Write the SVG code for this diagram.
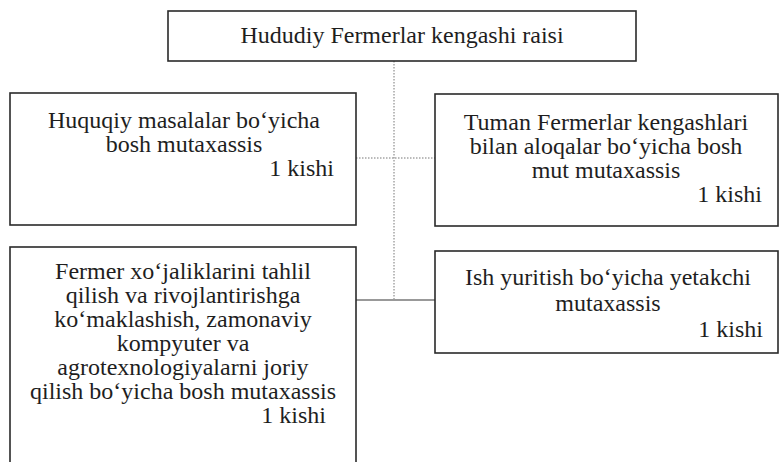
<svg xmlns="http://www.w3.org/2000/svg" width="781" height="462" viewBox="0 0 781 462">
<style>
.box{fill:#fff;stroke:#2a2a2a;stroke-width:1.6}
.t{font-family:"Liberation Serif","Times New Roman",serif;font-size:24px;fill:#1e1e1e}
.c{text-anchor:middle}
.r{text-anchor:end}
.dot{fill:none;stroke:#777;stroke-width:1;stroke-dasharray:1.5 1.5}
.sol{fill:none;stroke:#999;stroke-width:2.2}
</style>
<rect width="781" height="462" fill="#fff"/>
<g id="connectors">
<line class="dot" x1="394" y1="61" x2="394" y2="300"/>
<line class="dot" x1="356" y1="158" x2="435" y2="158"/>
<line class="sol" x1="356" y1="300" x2="435" y2="300"/>
</g>
<g id="n-top">
<rect class="box" x="168" y="11" width="468" height="50"/>
<text class="t c" x="402" y="43">Hududiy Fermerlar kengashi raisi</text>
</g>
<g id="n-huquqiy">
<rect class="box" x="10" y="93" width="346" height="132"/>
<text class="t c" x="184" y="128">Huquqiy masalalar bo‘yicha</text>
<text class="t c" x="184" y="152">bosh mutaxassis</text>
<text class="t r" x="334" y="176">1 kishi</text>
</g>
<g id="n-tuman">
<rect class="box" x="435" y="94" width="343" height="132"/>
<text class="t c" x="606" y="130">Tuman Fermerlar kengashlari</text>
<text class="t c" x="606" y="154">bilan aloqalar bo‘yicha bosh</text>
<text class="t c" x="606" y="178">mut mutaxassis</text>
<text class="t r" x="762" y="202">1 kishi</text>
</g>
<g id="n-fermer">
<rect class="box" x="10" y="247" width="346" height="230"/>
<text class="t c" x="183" y="279">Fermer xo‘jaliklarini tahlil</text>
<text class="t c" x="183" y="303">qilish va rivojlantirishga</text>
<text class="t c" x="183" y="327">ko‘maklashish, zamonaviy</text>
<text class="t c" x="183" y="351">kompyuter va</text>
<text class="t c" x="183" y="375">agrotexnologiyalarni joriy</text>
<text class="t c" x="183" y="399">qilish bo‘yicha bosh mutaxassis</text>
<text class="t r" x="326" y="423">1 kishi</text>
</g>
<g id="n-ish">
<rect class="box" x="435" y="251" width="343" height="102"/>
<text class="t c" x="608" y="285">Ish yuritish bo‘yicha yetakchi</text>
<text class="t c" x="608" y="311">mutaxassis</text>
<text class="t r" x="763" y="337">1 kishi</text>
</g>
</svg>
